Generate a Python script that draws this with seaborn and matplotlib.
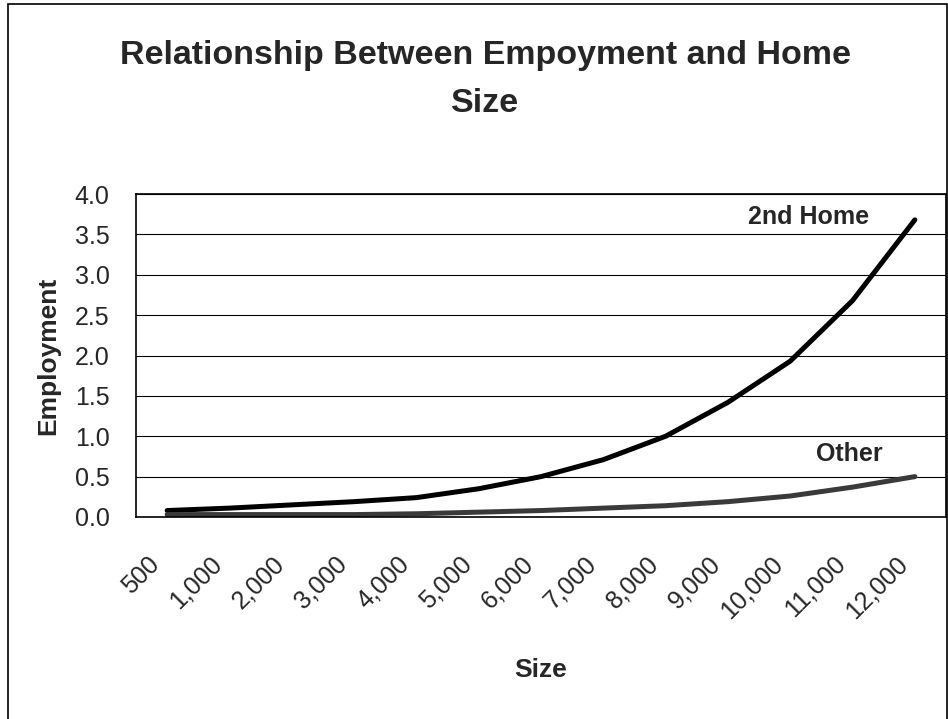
import numpy as np
import pandas as pd
import seaborn as sns
import matplotlib.pyplot as plt
from matplotlib.patches import Rectangle
from matplotlib.transforms import ScaledTranslation

sizes = ["500", "1,000", "2,000", "3,000", "4,000", "5,000", "6,000",
         "7,000", "8,000", "9,000", "10,000", "11,000", "12,000"]
second_home = [0.08, 0.11, 0.15, 0.19, 0.24, 0.35, 0.50, 0.71, 1.00, 1.42, 1.93, 2.68, 3.68]
other = [0.03, 0.03, 0.03, 0.03, 0.04, 0.06, 0.08, 0.11, 0.14, 0.19, 0.26, 0.37, 0.50]
y_ticks = [0.0, 0.5, 1.0, 1.5, 2.0, 2.5, 3.0, 3.5, 4.0]

n = len(sizes)
df = pd.DataFrame({
    "pos": list(range(n)) * 2,
    "Size": sizes * 2,
    "Employment": second_home + other,
    "Series": ["2nd Home"] * n + ["Other"] * n,
})

sns.set_theme(style="white")
plt.rcParams['font.family'] = ['Liberation Sans', 'DejaVu Sans']

W, H = 948, 719
fig = plt.figure(figsize=(W / 100, H / 100), dpi=100)
ax = fig.add_axes([136 / W, 1 - 517 / H, (946 - 136) / W, (517 - 194) / H])

sns.lineplot(data=df, x="pos", y="Employment", hue="Series",
             palette={"2nd Home": "black", "Other": "#3a3a3a"},
             linewidth=3.6, legend=False, ax=ax, solid_capstyle="round")

ax.set_xlim(-0.5, n - 0.5)
ax.set_ylim(0, 4)
ax.set_yticks(y_ticks)
ax.set_yticklabels([f"{v:.1f}" for v in y_ticks], fontsize=18)
ax.set_xticks(range(n))
ax.set_xticklabels(sizes, fontsize=18, rotation=45, ha="right", va="center",
                   rotation_mode="anchor")
ax.set_xticks(np.arange(-0.5, n, 1), minor=True)
ax.tick_params(axis="x", which="major", length=0, pad=31)
ax.tick_params(axis="x", which="minor", length=10, width=1, color="black", direction="out")
ax.tick_params(axis="y", length=9, width=1, color="black", direction="out", pad=10)
for lab in ax.get_xticklabels():
    lab.set_transform(lab.get_transform() + ScaledTranslation(-8 / 72, 0, fig.dpi_scale_trans))

ax.yaxis.grid(True, color="black", linewidth=0.8)
ax.set_axisbelow(True)
for sp in ax.spines.values():
    sp.set_visible(True)
    sp.set_color("black")
    sp.set_linewidth(1.2)

ax.set_xlabel("Size", fontsize=19, fontweight="bold")
ax.set_ylabel("Employment", fontsize=19, fontweight="bold")
ax.xaxis.set_label_coords(0.5, -0.435)
ax.yaxis.set_label_coords(-0.094, 0.5)

ax.text(10.3, 3.72, "2nd Home", ha="center", va="center", fontsize=18, fontweight="bold")
ax.text(10.95, 0.78, "Other", ha="center", va="center", fontsize=18, fontweight="bold")

fig.text(485 / W, 1 - 40 / H, "Relationship Between Empoyment and Home\nSize",
         ha="center", va="top", fontsize=24.5, fontweight="bold", linespacing=1.7)

fig.patches.append(Rectangle((8 / W, -0.01), 0.991, 1 - 4 / H + 0.01,
                             transform=fig.transFigure, fill=False,
                             edgecolor="black", linewidth=1.2))

fig.savefig("out.png", dpi=100, facecolor="white")
